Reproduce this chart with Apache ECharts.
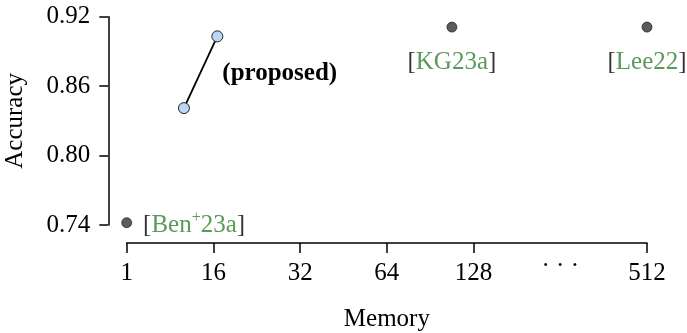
<!DOCTYPE html>
<html>
<head>
<meta charset="utf-8">
<script src="https://cdn.jsdelivr.net/npm/echarts@6/dist/echarts.min.js"></script>
<style>
html,body{margin:0;padding:0;background:#fff;}
#chart{width:687px;height:333px;}
</style>
</head>
<body>
<div id="chart"></div>
<script>
// Memory axis: evenly spaced slots, labels below
const memoryTicks = ['1', '16', '32', '64', '128', '···', '512'];
const memoryTickSlots = [0, 1, 2, 3, 4, 6];
const accuracyTicks = [0.74, 0.80, 0.86, 0.92];

// Baselines (position on memory-slot axis, accuracy)
const baselineNames = ['Ben', 'KG23a', 'Lee22'];
const baselinePos = [0, 3.75, 6];
const baselineAcc = [0.742, 0.911, 0.911];

// Proposed method
const proposedPos = [0.66, 1.045];
const proposedAcc = [0.841, 0.903];

const FONT = '"Liberation Serif", "DejaVu Serif", serif';
const FS = 25;
const GREEN = '#2f7f2f';

const richCite = {
  k: {color: '#000', fontFamily: FONT, fontSize: FS, lineHeight: 26, verticalAlign: 'bottom'},
  g: {color: GREEN, fontFamily: FONT, fontSize: FS, lineHeight: 26, verticalAlign: 'bottom'},
  s: {color: GREEN, fontFamily: FONT, fontSize: 16, lineHeight: 16, padding: [0, 0, 12, 0], verticalAlign: 'bottom'}
};

function citeLabel(name) {
  if (name === 'Ben') return '{k|[}{g|Ben}{s|+}{g|23a}{k|]}';
  return '{k|[}{g|' + name + '}{k|]}';
}

const baselineData = baselineNames.map((n, i) => ({
  value: [baselinePos[i], baselineAcc[i]],
  name: n,
  label: i === 0
    ? {position: 'right', distance: 11, offset: [0, 2]}
    : {position: 'bottom', distance: 16}
}));

const chart = echarts.init(document.getElementById('chart'), null, {renderer: 'canvas'});
chart.setOption({
  animation: false,
  backgroundColor: '#fff',
  grid: {left: 126.7, right: 40, top: 16.7, bottom: 108, containLabel: false, outerBoundsMode: 'none'},
  xAxis: {
    type: 'value', min: 0, max: memoryTicks.length - 1,
    offset: 18,
    axisLine: {show: true, onZero: false, lineStyle: {color: '#000', width: 1.5}},
    axisTick: {show: true, length: 10, inside: false, customValues: memoryTickSlots, lineStyle: {color: '#000', width: 1.5}},
    axisLabel: {
      customValues: memoryTicks.map((_, i) => i),
      margin: 17,
      formatter: v => {
        const t = memoryTicks[Math.round(v)];
        return t === '···' ? '{d|· · ·}' : '{n|' + t + '}';
      },
      rich: {
        n: {fontFamily: FONT, fontSize: FS, color: '#000', lineHeight: 26},
        d: {fontFamily: FONT, fontSize: FS, color: '#000', lineHeight: 12}
      }
    },
    splitLine: {show: false},
    name: 'Memory', nameLocation: 'middle', nameGap: 64, nameMoveOverlap: false,
    nameTextStyle: {fontFamily: FONT, fontSize: FS, color: '#000'}
  },
  yAxis: {
    type: 'value', min: 0.74, max: 0.92,
    offset: 18.4,
    axisLine: {show: true, onZero: false, lineStyle: {color: '#000', width: 1.5}},
    axisTick: {show: true, length: 9, inside: false, customValues: accuracyTicks, lineStyle: {color: '#000', width: 1.5}},
    axisLabel: {
      customValues: accuracyTicks, margin: 18,
      formatter: v => v.toFixed(2),
      fontFamily: FONT, fontSize: FS, color: '#000'
    },
    splitLine: {show: false},
    name: 'Accuracy', nameLocation: 'middle', nameGap: 80, nameMoveOverlap: false,
    nameTextStyle: {fontFamily: FONT, fontSize: FS, color: '#000'}
  },
  series: [
    {
      type: 'scatter',
      data: baselineData,
      symbol: 'circle', symbolSize: 10,
      itemStyle: {color: '#333', borderColor: '#111', borderWidth: 0.8},
      clip: false,
      label: {show: true, formatter: p => citeLabel(p.name), rich: richCite}
    },
    {
      type: 'line',
      data: proposedPos.map((x, i) => [x, proposedAcc[i]]),
      symbol: 'circle', symbolSize: 11, showSymbol: true,
      lineStyle: {color: '#000', width: 1.8},
      itemStyle: {color: '#bcd6f5', borderColor: '#222', borderWidth: 1},
      clip: false,
      label: {
        show: true,
        formatter: p => p.dataIndex === proposedPos.length - 1 ? '(proposed)' : '',
        position: 'right', distance: 0, offset: [-1, 37],
        fontFamily: FONT, fontSize: FS, fontWeight: 'bold', color: '#000'
      }
    }
  ]
});
</script>
</body>
</html>
